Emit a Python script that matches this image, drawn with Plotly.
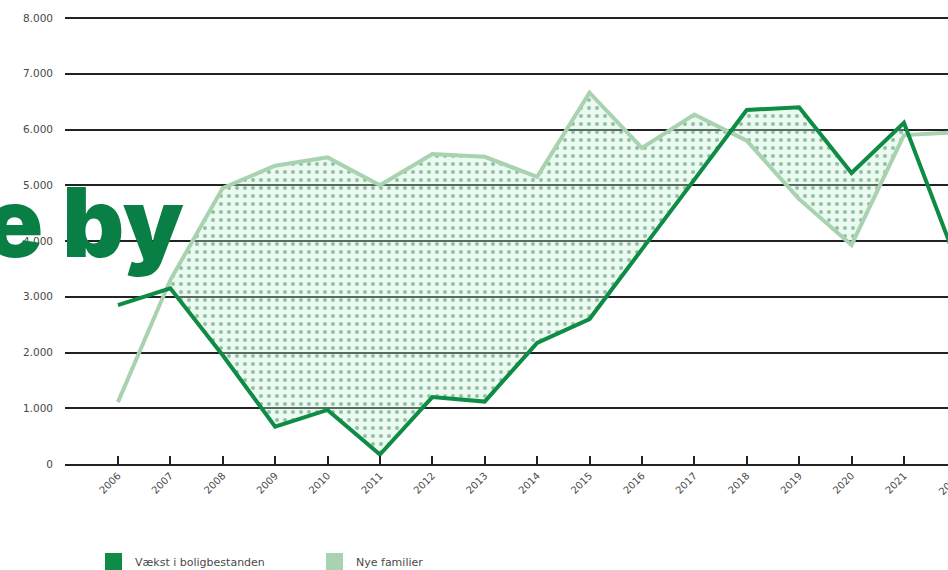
import plotly.graph_objects as go

years = list(range(2006, 2023))
vaekst = [2850, 3150, 1950, 670, 970, 170, 1200, 1120, 2170, 2600, 3850, 5100, 6350, 6400, 5220, 6120, 3650]
nye_familier = [1110, 3300, 4950, 5350, 5500, 5000, 5560, 5510, 5150, 6660, 5670, 6270, 5800, 4750, 3930, 5900, 5950]

# the dotted gap is shaded from 2007 to 2021
fill_years = years[1:16]
fill_vaekst = vaekst[1:16]
fill_nye = nye_familier[1:16]

tick_years = list(range(2005, 2023))
tick_labels = [""] + [str(y) for y in range(2006, 2023)]
y_ticks = [0, 1000, 2000, 3000, 4000, 5000, 6000, 7000, 8000]

legend_names = ["Vækst i boligbestanden", "Nye familier"]

DARK = "#0e8c45"
LIGHT = "#a8d2b0"
TXT = "#4a4a4a"
FONT = "DejaVu Sans, sans-serif"

W, H = 948, 570
ML, MT, MB, MR = 65, 16, 106, 0
PW = W - ML - MR
PH = H - MT - MB
YMAX = 8036

fig = go.Figure()
# fill helpers
fig.add_trace(go.Scatter(x=fill_years, y=fill_nye, mode="lines", line=dict(width=0),
                         hoverinfo="skip", showlegend=False))
fig.add_trace(go.Scatter(
    x=fill_years, y=fill_vaekst, mode="lines", line=dict(width=0), hoverinfo="skip",
    showlegend=False, fill="tonexty", fillcolor="rgba(0,0,0,0)",
    fillpattern=dict(shape=".", fgcolor="#2f8a58", bgcolor="rgba(200,238,212,0.35)",
                     size=8, solidity=0.2),
))
fig.add_trace(go.Scatter(
    x=years, y=nye_familier, mode="lines", name=legend_names[1],
    line=dict(color=LIGHT, width=4), showlegend=False,
))
fig.add_trace(go.Scatter(
    x=years, y=vaekst, mode="lines", name=legend_names[0],
    line=dict(color=DARK, width=4), showlegend=False,
))

def px_x(px):
    return (px - ML) / PW

def px_y(py):
    return (H - MB - py) / PH

annotations = [
    dict(text="e by", xref="paper", yref="paper", x=px_x(186), y=px_y(222),
         xanchor="right", yanchor="middle", showarrow=False,
         font=dict(family="Inter, Roboto, sans-serif", size=96, color="#0a7f45", weight=900)),
    dict(text="2022", xref="paper", yref="paper", x=px_x(934), y=px_y(469),
         xanchor="left", yanchor="top", showarrow=False, textangle=-45,
         font=dict(family=FONT, size=10, color=TXT)),
]
shapes = []
leg_x = [105, 326]
for lx, nm, col in zip(leg_x, legend_names, [DARK, LIGHT]):
    shapes.append(dict(type="rect", xref="paper", yref="paper",
                       x0=px_x(lx), x1=px_x(lx + 17), y0=px_y(553), y1=px_y(570),
                       fillcolor=col, line=dict(width=0)))
    annotations.append(dict(text=nm, xref="paper", yref="paper", x=px_x(lx + 28),
                            y=px_y(562), xanchor="left", yanchor="middle",
                            showarrow=False,
                            font=dict(family=FONT, size=11, color=TXT)))

x0 = 2004.99
fig.update_layout(
    width=W, height=H,
    margin=dict(l=ML, r=MR, t=MT, b=MB),
    paper_bgcolor="white", plot_bgcolor="white",
    separators=",.",
    showlegend=False,
    annotations=annotations,
    shapes=shapes,
    xaxis=dict(
        range=[x0, x0 + PW / 52.4],
        tickmode="array", tickvals=tick_years, ticktext=tick_labels,
        tickangle=-45, ticks="inside", ticklen=8, tickwidth=1.5, tickcolor="#222",
        showline=True, linecolor="#222", linewidth=2,
        showgrid=False, zeroline=False,
        tickfont=dict(family=FONT, size=10, color=TXT),
    ),
    yaxis=dict(
        range=[0, YMAX], tickmode="array", tickvals=y_ticks,
        tickformat=",d",
        showgrid=True, gridcolor="#222", gridwidth=2,
        zeroline=False, showline=False, ticks="",
        ticklabelstandoff=11,
        tickfont=dict(family=FONT, size=10.5, color=TXT),
    ),
)

fig.write_html("out.html", config={"displayModeBar": False},
               post_script="document.body.style.margin='0';document.body.style.overflow='hidden';")
